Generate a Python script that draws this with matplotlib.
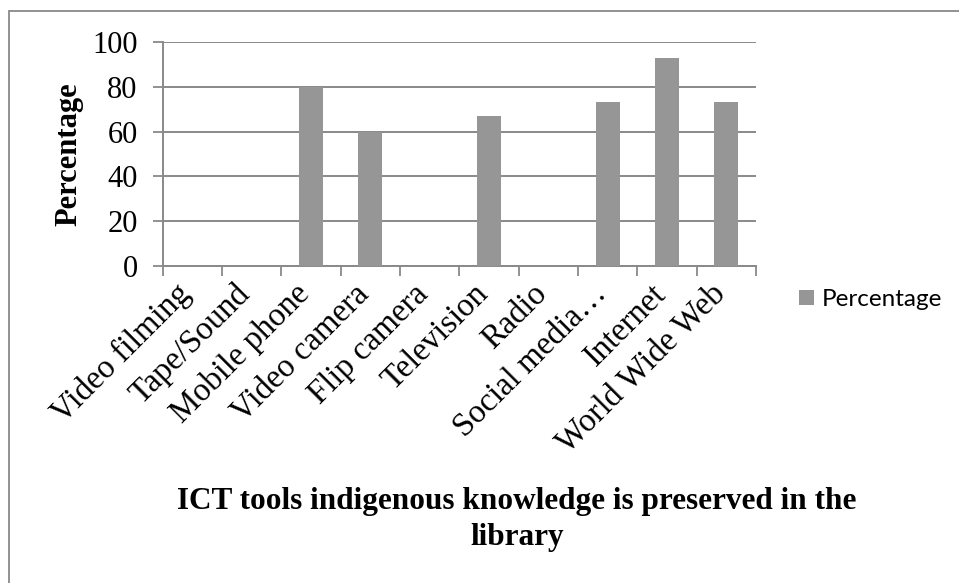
import matplotlib
matplotlib.use("Agg")
import matplotlib.pyplot as plt
from matplotlib.patches import Rectangle
from matplotlib.transforms import ScaledTranslation

# ICT tools used to preserve indigenous knowledge (% of respondents)
tools = [
    "Video filming", "Tape/Sound", "Mobile phone", "Video camera",
    "Flip camera", "Television", "Radio", "Social media\u2026",
    "Internet", "World Wide Web",
]
percentage = [0, 0, 80, 60, 0, 67, 0, 73, 93, 73]
y_ticks = [0, 20, 40, 60, 80, 100]

GRID = "#898989"
BAR = "#969696"
SERIF = "Liberation Serif"

W, H = 959, 583
fig = plt.figure(figsize=(W / 100, H / 100), dpi=100)
fig.patch.set_facecolor("white")

# chart frame, left/top edges visible
fig.add_artist(Rectangle((9 / W, -0.1), 1.2, 1.1 - 11 / H,
                         transform=fig.transFigure, fill=False,
                         edgecolor=GRID, linewidth=1.3))

ax = fig.add_axes([162.7 / W, 1 - 266 / H, (756 - 162.7) / W, (266 - 42) / H])
x = list(range(len(tools)))
ax.bar(x, percentage, width=0.4, color=BAR, label="Percentage", zorder=3)

ax.set_xlim(-0.5, len(tools) - 0.5)
ax.set_ylim(0, 100)
ax.set_yticks(y_ticks)
ax.set_yticklabels([str(v) for v in y_ticks], fontfamily=SERIF, fontsize=22)
ax.yaxis.grid(True, color=GRID, linewidth=1.4, zorder=0)
ax.set_axisbelow(True)

# category ticks sit on the boundaries between bars
ax.set_xticks([i - 0.5 for i in range(len(tools) + 1)], minor=False)
ax.set_xticklabels([])
ax.set_xticks(x, minor=True)
ax.set_xticklabels(tools, minor=True, rotation=45, ha="right", va="baseline",
                   rotation_mode="anchor", fontfamily=SERIF, fontsize=23.5)
shift = ScaledTranslation(0.07, 0, fig.dpi_scale_trans)
for lbl in ax.get_xticklabels(minor=True):
    lbl.set_transform(lbl.get_transform() + shift)
ax.tick_params(axis="x", which="minor", length=0, pad=21)
ax.tick_params(axis="x", which="major", length=7, width=1.3, color=GRID)
ax.tick_params(axis="y", length=7, width=1.3, color=GRID, pad=11)

for side in ("top", "right"):
    ax.spines[side].set_visible(False)
for side in ("left", "bottom"):
    ax.spines[side].set_color(GRID)
    ax.spines[side].set_linewidth(1.4)

ax.set_ylabel("Percentage", fontfamily=SERIF, fontsize=22,
              fontweight="bold", labelpad=6)

fig.text(517 / W, 1 - 545 / H,
         "ICT tools indigenous knowledge is preserved in the\nlibrary",
         ha="center", va="baseline", fontfamily=SERIF, fontsize=22.5,
         fontweight="bold", linespacing=1.3)

fig.legend(loc="center left", bbox_to_anchor=(799 / W, 1 - 299.5 / H),
           frameon=False, borderpad=0, borderaxespad=0,
           handlelength=0.62, handleheight=0.62, handletextpad=0.3,
           prop={"family": "Lato", "size": 17.5})

fig.savefig("out.png", dpi=100, facecolor="white")
